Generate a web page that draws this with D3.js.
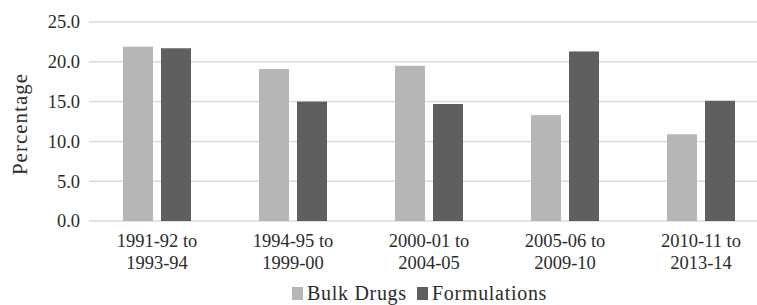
<!DOCTYPE html>
<html><head><meta charset="utf-8">
<script src="https://cdn.jsdelivr.net/npm/d3@7"></script>
<style>body{margin:0;background:#fff}svg{display:block}</style>
</head><body>
<svg id="c" width="757" height="305"></svg>
<script>
const categories = [["1991-92 to","1993-94"],["1994-95 to","1999-00"],["2000-01 to","2004-05"],["2005-06 to","2009-10"],["2010-11 to","2013-14"]];
const seriesNames = ["Bulk Drugs","Formulations"];
const bulkDrugs = [21.9, 19.1, 19.5, 13.3, 10.9];
const formulations = [21.7, 15.0, 14.7, 21.3, 15.1];
const yTicks = [0, 5, 10, 15, 20, 25];
const colors = ["#b5b6b5", "#5f5f5f"];
const FONT = "Liberation Serif";
const TXT = "#2b2b2b";

const svg = d3.select("#c");
const x = d3.scaleBand().domain(d3.range(categories.length)).range([89, 769]);
const y = d3.scaleLinear().domain([0, 25]).range([221, 22]);
const barW = 30, gap = 8;

svg.append("g").selectAll("line").data(yTicks).join("line")
  .attr("x1", 89).attr("x2", 757).attr("y1", d => y(d)).attr("y2", d => y(d))
  .attr("stroke", "#d9d9d9").attr("stroke-width", 1.5);

svg.append("g").selectAll("text").data(yTicks).join("text")
  .attr("x", 80).attr("y", d => y(d)).attr("dy", "0.35em").attr("text-anchor", "end")
  .attr("font-size", 18.5).attr("font-family", FONT).attr("fill", TXT).text(d => d.toFixed(1));

svg.append("text").attr("transform", "translate(27,124) rotate(-90)")
  .attr("text-anchor", "middle").attr("font-size", 21).attr("letter-spacing", 1)
  .attr("font-family", FONT).attr("fill", TXT).text("Percentage");

const series = [bulkDrugs, formulations];
series.forEach((vals, si) => {
  svg.append("g").selectAll("rect").data(vals).join("rect")
    .attr("x", (d, i) => x(i) + x.bandwidth() / 2 + (si === 0 ? -gap / 2 - barW : gap / 2))
    .attr("width", barW)
    .attr("y", d => y(d)).attr("height", d => y(0) - y(d))
    .attr("fill", colors[si]);
});

categories.forEach((c, i) => {
  const cx = x(i) + x.bandwidth() / 2;
  c.forEach((line, j) => {
    svg.append("text").attr("x", cx).attr("y", 247 + j * 22).attr("text-anchor", "middle")
      .attr("font-size", 18.5).attr("font-family", FONT).attr("fill", TXT).text(line);
  });
});

const lx = [292, 417];
seriesNames.forEach((n, i) => {
  svg.append("rect").attr("x", lx[i]).attr("y", 287).attr("width", 11).attr("height", 13).attr("fill", colors[i]);
  svg.append("text").attr("x", lx[i] + 15).attr("y", 300).attr("font-size", 20).attr("letter-spacing", 0.7)
    .attr("font-family", FONT).attr("fill", TXT).text(n);
});
</script>
</body></html>
